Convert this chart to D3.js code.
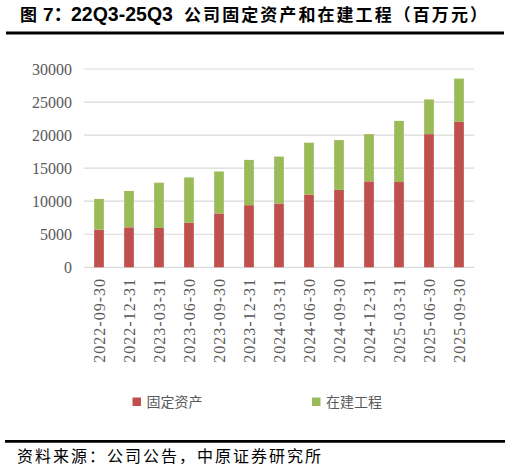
<!DOCTYPE html>
<html>
<head>
<meta charset="utf-8">
<script src="https://cdn.jsdelivr.net/npm/d3@7"></script>
<style>
  body { margin: 0; background: #fff; }
  svg { display: block; }
</style>
</head>
<body>
<script>
// data (百万元)
const dates = ["2022-09-30", "2022-12-31", "2023-03-31", "2023-06-30", "2023-09-30",
  "2023-12-31", "2024-03-31", "2024-06-30", "2024-09-30", "2024-12-31",
  "2025-03-31", "2025-06-30", "2025-09-30"];
const fixedAssets = [5700, 6050, 5950, 6750, 8150, 9400, 9650, 11000, 11700, 13000, 12900, 20150, 22000];
const constructionInProgress = [4650, 5500, 6850, 6850, 6350, 6850, 7100, 7850, 7550, 7150, 9250, 5250, 6550];
const seriesNames = ["固定资产", "在建工程"];
const yTicks = [0, 5000, 10000, 15000, 20000, 25000, 30000];

const width = 511, height = 472;
const colors = ["#C0504D", "#9BBB59"];

const svg = d3.select("body").append("svg")
  .attr("width", width)
  .attr("height", height);

// title
const title = svg.append("text")
  .attr("y", 21)
  .attr("font-weight", "bold")
  .attr("fill", "#000");
title.append("tspan").attr("x", 20).attr("font-family", "Noto Sans CJK SC").attr("font-size", 17).text("图");
title.append("tspan").attr("x", 43).attr("font-family", "Liberation Sans, Noto Sans CJK SC").attr("font-size", 19).text("7：");
title.append("tspan").attr("x", 71).attr("font-family", "Liberation Sans").attr("font-size", 19.5).text("22Q3-25Q3");
title.append("tspan").attr("x", 184).attr("font-family", "Noto Sans CJK SC").attr("font-size", 17)
  .attr("textLength", 303).attr("lengthAdjust", "spacing")
  .text("公司固定资产和在建工程（百万元）");

svg.append("line")
  .attr("x1", 6).attr("x2", 504)
  .attr("y1", 33).attr("y2", 33)
  .attr("stroke", "#000").attr("stroke-width", 3);

// scales
const x = d3.scaleBand()
  .domain(dates)
  .range([84, 474])
  .paddingInner(0.677)
  .paddingOuter(0.677 / 2);

const y = d3.scaleLinear()
  .domain([0, 30000])
  .range([267.3, 69]);

// gridlines
svg.append("g")
  .selectAll("line")
  .data(yTicks)
  .enter()
  .append("line")
    .attr("x1", 84).attr("x2", 474)
    .attr("y1", d => y(d)).attr("y2", d => y(d))
    .attr("stroke", "#d9d9d9")
    .attr("stroke-width", 1.2);

// y axis labels
const yAxis = d3.axisLeft(y).tickValues(yTicks).tickSize(0).tickPadding(0).tickFormat(d3.format("d"));
const yg = svg.append("g")
  .attr("transform", "translate(72,0)")
  .call(yAxis);
yg.select(".domain").remove();
yg.selectAll("text")
  .attr("font-family", "Liberation Serif")
  .attr("font-size", 16)
  .attr("fill", "#595959");

// stacked bars
const rows = dates.map((d, i) => ({ date: d, "固定资产": fixedAssets[i], "在建工程": constructionInProgress[i] }));
const stacked = d3.stack().keys(seriesNames)(rows);

svg.append("g")
  .selectAll("g")
  .data(stacked)
  .enter()
  .append("g")
    .attr("fill", (d, i) => colors[i])
  .selectAll("rect")
  .data(d => d)
  .enter()
  .append("rect")
    .attr("x", d => x(d.data.date))
    .attr("y", d => y(d[1]))
    .attr("width", x.bandwidth())
    .attr("height", d => y(d[0]) - y(d[1]));

// x labels, rotated
svg.append("g")
  .selectAll("text")
  .data(dates)
  .enter()
  .append("text")
    .attr("transform", d => "translate(" + (x(d) + x.bandwidth() / 2) + ",278) rotate(-90)")
    .attr("text-anchor", "end")
    .attr("dy", "0.35em")
    .attr("font-family", "Liberation Serif")
    .attr("font-size", 16)
    .attr("letter-spacing", 1)
    .attr("fill", "#595959")
    .text(d => d);

// legend
const legendX = [132.5, 312];
const legend = svg.append("g")
  .selectAll("g")
  .data(seriesNames)
  .enter()
  .append("g")
    .attr("transform", (d, i) => "translate(" + legendX[i] + ",397.5)");
legend.append("rect")
  .attr("width", 8.5).attr("height", 8.5)
  .attr("fill", (d, i) => colors[i]);
legend.append("text")
  .attr("x", 14)
  .attr("y", 4.5)
  .attr("dy", "0.35em")
  .attr("font-family", "Noto Sans CJK SC")
  .attr("font-size", 14)
  .attr("fill", "#595959")
  .text(d => d);

// source line
svg.append("line")
  .attr("x1", 5).attr("x2", 505)
  .attr("y1", 441.3).attr("y2", 441.3)
  .attr("stroke", "#000").attr("stroke-width", 2.7);

svg.append("text")
  .attr("x", 17)
  .attr("y", 456)
  .attr("dy", "0.35em")
  .attr("font-family", "Noto Sans CJK SC")
  .attr("font-size", 16)
  .attr("letter-spacing", 2)
  .attr("fill", "#000")
  .text("资料来源：公司公告，中原证券研究所");
</script>
</body>
</html>
